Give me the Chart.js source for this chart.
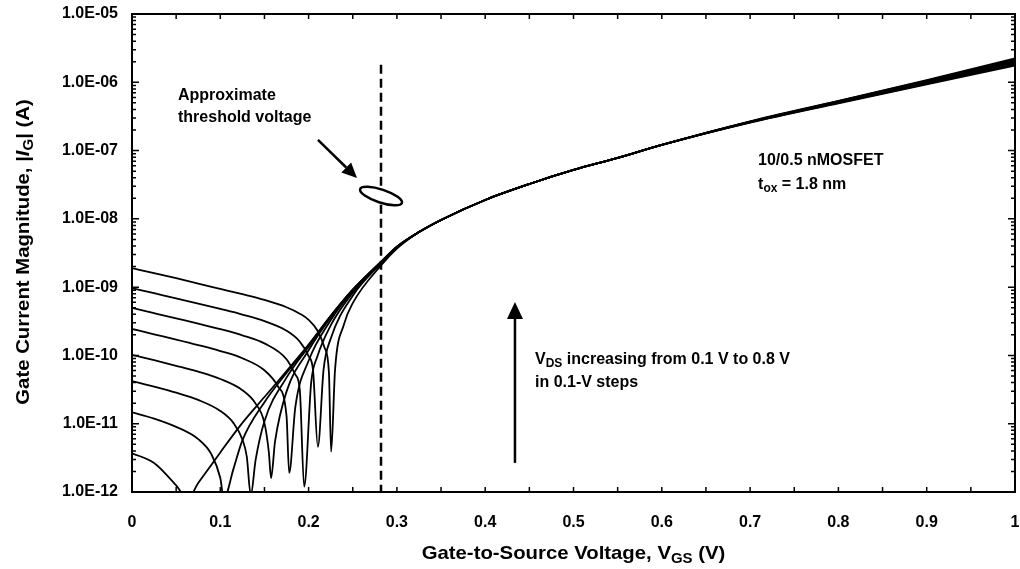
<!DOCTYPE html>
<html>
<head>
<meta charset="utf-8">
<script src="https://cdn.jsdelivr.net/npm/chart.js@4.4.1/dist/chart.umd.min.js"></script>
<style>
  html, body { margin: 0; padding: 0; background: #fff; }
  #wrap { width: 1020px; height: 569px; }
</style>
</head>
<body>
<div id="wrap"><canvas id="gateChart" width="1020" height="569"></canvas></div>
<script>
// VDS steps, one curve each
const vdsLabels = ['0.1 V', '0.2 V', '0.3 V', '0.4 V', '0.5 V', '0.6 V', '0.7 V', '0.8 V'];

// |IG| vs VGS, up to 0.3 V (each curve has its own dip)
const vgs01 = [0, 0.025, 0.05, 0.063, 0.075, 0.09, 0.10, 0.125, 0.15, 0.175, 0.20, 0.225, 0.25, 0.283, 0.30];
const ig01 = [3.7e-12, 2.66e-12, 1.25e-12, 8e-13, 1.35e-12, 2.5e-12, 3.8e-12, 1.03e-11, 2.46e-11, 5.88e-11, 1.44e-10, 3.8e-10, 9.2e-10, 2.42e-9, 3.9e-9];
const vgs02 = [0, 0.025, 0.05, 0.075, 0.09, 0.10, 0.104, 0.115, 0.125, 0.15, 0.175, 0.20, 0.225, 0.25, 0.283, 0.30];
const ig02 = [1.47e-11, 1.19e-11, 9.0e-12, 5.94e-12, 3.55e-12, 1.6e-12, 8e-13, 2.2e-12, 5.7e-12, 2.07e-11, 5.55e-11, 1.41e-10, 3.77e-10, 9.17e-10, 2.41e-9, 3.9e-9];
const vgs03 = [0, 0.025, 0.05, 0.075, 0.10, 0.115, 0.125, 0.13, 0.1345, 0.14, 0.15, 0.175, 0.20, 0.225, 0.25, 0.283, 0.30];
const ig03 = [4.22e-11, 3.5e-11, 2.85e-11, 2.23e-11, 1.54e-11, 1.02e-11, 5.9e-12, 3.3e-12, 9e-13, 2.95e-12, 1.09e-11, 4.73e-11, 1.34e-10, 3.71e-10, 9.12e-10, 2.41e-9, 3.89e-9];
const vgs04 = [0, 0.025, 0.05, 0.075, 0.10, 0.125, 0.14, 0.15, 0.155, 0.1575, 0.162, 0.175, 0.20, 0.225, 0.25, 0.283, 0.30];
const ig04 = [1.017e-10, 8.51e-11, 7.06e-11, 5.78e-11, 4.52e-11, 3.1e-11, 1.97e-11, 1.02e-11, 3.8e-12, 1.6e-12, 5.5e-12, 2.95e-11, 1.19e-10, 3.59e-10, 9.0e-10, 2.41e-9, 3.88e-9];
const vgs05 = [0, 0.025, 0.05, 0.075, 0.10, 0.125, 0.15, 0.165, 0.175, 0.178, 0.185, 0.20, 0.225, 0.25, 0.283, 0.30];
const ig05 = [2.44e-10, 2.04e-10, 1.71e-10, 1.42e-10, 1.16e-10, 9.1e-11, 6.06e-11, 3.57e-11, 1.3e-11, 1.9e-12, 1.76e-11, 8.37e-11, 3.28e-10, 8.77e-10, 2.39e-9, 3.87e-9];
const vgs06 = [0, 0.025, 0.05, 0.075, 0.10, 0.125, 0.15, 0.175, 0.185, 0.19, 0.195, 0.203, 0.21, 0.225, 0.25, 0.283, 0.30];
const ig06 = [4.96e-10, 4.16e-10, 3.49e-10, 2.93e-10, 2.43e-10, 1.97e-10, 1.5e-10, 8.8e-11, 5.24e-11, 3.2e-11, 1.2e-12, 4.1e-11, 9.7e-11, 2.75e-10, 8.3e-10, 2.35e-9, 3.84e-9];
const vgs07 = [0, 0.025, 0.05, 0.075, 0.10, 0.125, 0.15, 0.175, 0.19, 0.20, 0.205, 0.2105, 0.217, 0.225, 0.25, 0.283, 0.30];
const ig07 = [9.7e-10, 8.15e-10, 6.85e-10, 5.75e-10, 4.8e-10, 3.97e-10, 3.18e-10, 2.3e-10, 1.59e-10, 9.8e-11, 6.1e-11, 4.6e-12, 6.3e-11, 1.75e-10, 7.5e-10, 2.28e-9, 3.78e-9];
const vgs08 = [0, 0.025, 0.05, 0.075, 0.10, 0.125, 0.15, 0.175, 0.19, 0.20, 0.21, 0.218, 0.223, 0.2255, 0.23, 0.24, 0.25, 0.283, 0.30];
const ig08 = [1.9e-9, 1.6e-9, 1.35e-9, 1.13e-9, 9.44e-10, 7.88e-10, 6.49e-10, 5.08e-10, 4.09e-10, 3.32e-10, 2.32e-10, 1.31e-10, 5.7e-11, 3.9e-12, 6.3e-11, 2.84e-10, 5.82e-10, 2.15e-9, 3.66e-9];

// all curves run together above threshold
const vgsOn = [0.325, 0.35, 0.40, 0.45, 0.50, 0.55, 0.60];
const igOn = [6.4e-9, 9.64e-9, 1.89e-8, 3.24e-8, 5.2e-8, 7.8e-8, 1.21e-7];

// slight spread at high VGS (thick band)
const vgsHigh = [0.70, 0.80, 0.90, 1.00];
const igHigh01 = [2.68e-7, 5.35e-7, 1.08e-6, 2.24e-6];
const igHigh02 = [2.66e-7, 5.29e-7, 1.06e-6, 2.16e-6];
const igHigh03 = [2.65e-7, 5.23e-7, 1.04e-6, 2.09e-6];
const igHigh04 = [2.63e-7, 5.17e-7, 1.02e-6, 2.02e-6];
const igHigh05 = [2.62e-7, 5.11e-7, 0.99e-6, 1.95e-6];
const igHigh06 = [2.6e-7, 5.05e-7, 0.97e-6, 1.88e-6];
const igHigh07 = [2.59e-7, 4.99e-7, 0.95e-6, 1.82e-6];
const igHigh08 = [2.57e-7, 4.93e-7, 0.93e-6, 1.75e-6];

// approximate threshold voltage marker
const thresholdVgs = 0.282;
const thresholdTop = 1.8e-6;

const xTicks = [0, 0.1, 0.2, 0.3, 0.4, 0.5, 0.6, 0.7, 0.8, 0.9, 1];
const yTicks = [1e-12, 1e-11, 1e-10, 1e-9, 1e-8, 1e-7, 1e-6, 1e-5];

const FONT = "'Liberation Sans', Arial, sans-serif";

const curves = [
  [vgs01, ig01, igHigh01], [vgs02, ig02, igHigh02], [vgs03, ig03, igHigh03], [vgs04, ig04, igHigh04],
  [vgs05, ig05, igHigh05], [vgs06, ig06, igHigh06], [vgs07, ig07, igHigh07], [vgs08, ig08, igHigh08]
];

function toPoints(xs, ys) {
  return xs.map((v, i) => ({ x: v, y: ys[i] }));
}

const datasets = curves.map((c, i) => ({
  label: 'VDS = ' + vdsLabels[i],
  data: toPoints(c[0], c[1]).concat(toPoints(vgsOn, igOn), toPoints(vgsHigh, c[2])),
  borderColor: '#000',
  borderWidth: 1.8,
  pointRadius: 0,
  fill: false,
  cubicInterpolationMode: 'monotone'
}));

datasets.push({
  label: 'threshold',
  data: [{ x: thresholdVgs, y: thresholdTop }, { x: thresholdVgs, y: 1e-12 }],
  borderColor: '#000',
  borderWidth: 2.5,
  borderDash: [9, 5],
  pointRadius: 0,
  tension: 0
});

// text with italic / subscript pieces
function drawRich(ctx, parts, x, y, size, align, stretch) {
  const fontFor = p => (p.i ? 'italic ' : '') + 'bold ' + (p.sub ? Math.round(size * 0.72) : size) + 'px ' + FONT;
  let total = 0;
  parts.forEach(p => { ctx.font = fontFor(p); p.w = ctx.measureText(p.t).width; total += p.w; });
  ctx.save();
  ctx.translate(x, y);
  ctx.scale(stretch || 1, 1);
  ctx.fillStyle = '#000';
  ctx.textBaseline = 'alphabetic';
  ctx.textAlign = 'left';
  let cx = align === 'center' ? -total / 2 : 0;
  parts.forEach(p => {
    ctx.font = fontFor(p);
    ctx.fillText(p.t, cx, p.sub ? size * 0.2 : 0);
    cx += p.w;
  });
  ctx.restore();
}

function arrow(ctx, x0, y0, x1, y1, head, half) {
  const ang = Math.atan2(y1 - y0, x1 - x0);
  const bx = x1 - head * Math.cos(ang), by = y1 - head * Math.sin(ang);
  ctx.beginPath();
  ctx.moveTo(x0, y0);
  ctx.lineTo(bx, by);
  ctx.stroke();
  ctx.beginPath();
  ctx.moveTo(x1, y1);
  ctx.lineTo(bx + half * Math.sin(ang), by - half * Math.cos(ang));
  ctx.lineTo(bx - half * Math.sin(ang), by + half * Math.cos(ang));
  ctx.closePath();
  ctx.fill();
}

const decorations = {
  id: 'decorations',
  afterDatasetsDraw(chart) {
    const { ctx, chartArea: a, scales: { x, y } } = chart;
    const px = v => x.getPixelForValue(v);
    const py = v => y.getPixelForValue(v);
    ctx.save();
    ctx.strokeStyle = '#000';
    ctx.fillStyle = '#000';

    // frame + inward ticks
    ctx.lineWidth = 2;
    ctx.strokeRect(a.left, a.top, a.right - a.left, a.bottom - a.top);
    ctx.lineWidth = 1.5;
    ctx.beginPath();
    for (let i = 1; i < 20; i++) {
      const tx = px(i * 0.05);
      ctx.moveTo(tx, a.bottom); ctx.lineTo(tx, a.bottom - 5);
      ctx.moveTo(tx, a.top); ctx.lineTo(tx, a.top + 5);
    }
    for (let e = -12; e < -5; e++) {
      for (let m = 1; m < 10; m++) {
        const ty = py(m * Math.pow(10, e));
        const len = m === 1 ? 7 : 4;
        ctx.moveTo(a.left, ty); ctx.lineTo(a.left + len, ty);
        ctx.moveTo(a.right, ty); ctx.lineTo(a.right - len, ty);
      }
    }
    ctx.stroke();

    // ellipse on the threshold line
    ctx.lineWidth = 2.5;
    ctx.beginPath();
    ctx.ellipse(px(0.282), py(2.16e-8), 22, 6.5, 0.32, 0, Math.PI * 2);
    ctx.fillStyle = '#fff';
    ctx.fill();
    ctx.stroke();
    ctx.fillStyle = '#000';

    // arrows
    arrow(ctx, px(0.2106), py(1.43e-7), px(0.2548), py(3.97e-8), 15, 7);
    arrow(ctx, px(0.4337), py(2.67e-12), px(0.4337), py(6.07e-10), 17, 8);
    ctx.restore();

    // annotations
    drawRich(ctx, [{ t: 'Approximate' }], px(0.0521), 99.5, 16, 'left');
    drawRich(ctx, [{ t: 'threshold voltage' }], px(0.0521), 122, 16, 'left');
    drawRich(ctx, [{ t: '10/0.5 nMOSFET' }], px(0.709), 165, 16, 'left');
    drawRich(ctx, [{ t: 't' }, { t: 'ox', sub: true }, { t: ' = 1.8 nm' }], px(0.709), 189, 16, 'left');
    drawRich(ctx, [{ t: 'V' }, { t: 'DS', sub: true }, { t: ' increasing from 0.1 V to 0.8 V' }], px(0.4564), 364, 16, 'left');
    drawRich(ctx, [{ t: 'in 0.1-V steps' }], px(0.4564), 387, 16, 'left');

    // axis titles
    drawRich(ctx, [{ t: 'Gate-to-Source Voltage, V' }, { t: 'GS', sub: true }, { t: ' (V)' }],
      (a.left + a.right) / 2, 559, 19, 'center', 1.07);
    ctx.save();
    ctx.translate(29, 252);
    ctx.rotate(-Math.PI / 2);
    drawRich(ctx, [{ t: 'Gate Current Magnitude, |' }, { t: 'I', i: true }, { t: 'G', sub: true }, { t: '| (A)' }],
      0, 0, 19, 'center', 1.07);
    ctx.restore();
  }
};

const tickFont = { family: FONT, size: 16, weight: 'bold' };

new Chart(document.getElementById('gateChart'), {
  type: 'line',
  data: { datasets },
  options: {
    responsive: false,
    animation: false,
    layout: { padding: { top: 14, right: 5, left: 0, bottom: 0 } },
    plugins: { legend: { display: false }, tooltip: { enabled: false } },
    scales: {
      x: {
        type: 'linear',
        min: 0,
        max: 1,
        grid: { display: false, drawTicks: false },
        border: { display: false },
        afterBuildTicks: s => { s.ticks = xTicks.map(v => ({ value: v })); },
        afterFit: s => { s.height = 77; s.paddingLeft = 0; s.paddingRight = 0; },
        ticks: {
          color: '#000',
          font: tickFont,
          padding: 21,
          maxRotation: 0,
          autoSkip: false,
          callback: v => (v === 0 || v === 1) ? String(v) : v.toFixed(1)
        }
      },
      y: {
        type: 'logarithmic',
        min: 1e-12,
        max: 1e-5,
        grid: { display: false, drawTicks: false },
        border: { display: false },
        afterBuildTicks: s => { s.ticks = yTicks.map(v => ({ value: v })); },
        afterFit: s => { s.width = 132; s.paddingTop = 0; s.paddingBottom = 0; },
        ticks: {
          color: '#000',
          font: tickFont,
          padding: 14,
          autoSkip: false,
          callback: v => '1.0E-' + String(-Math.round(Math.log10(v))).padStart(2, '0')
        }
      }
    }
  },
  plugins: [decorations]
});
</script>
</body>
</html>
